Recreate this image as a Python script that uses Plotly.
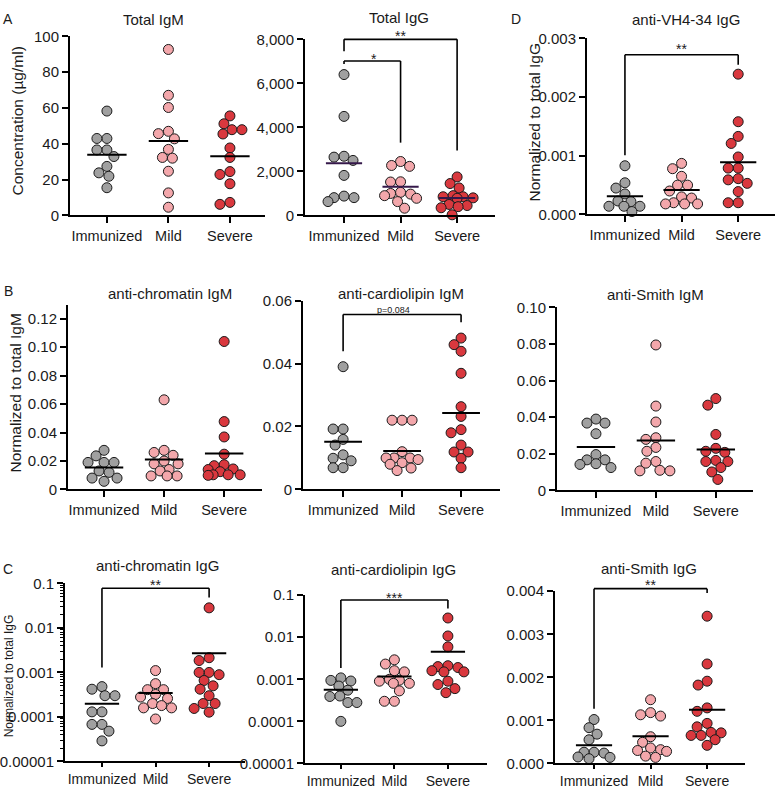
import numpy as np
import plotly.graph_objects as go

W, H = 777, 791
groups = ["Immunized", "Mild", "Severe"]
colors = ["#a0a0a0", "#f3a7ab", "#d9383e"]

# ---------------- data ----------------
total_igm_immunized = [58.3, 43, 43, 36.6, 36.6, 32.9, 27.4, 23.8, 21.9, 15.5]
total_igm_mild = [92.7, 67.1, 60.3, 47, 45.7, 42.8, 36.9, 32.4, 32, 24.7, 12.6, 4.6]
total_igm_severe = [55.6, 51.2, 47.9, 47.9, 45.5, 37.7, 32.4, 24.5, 22.9, 17.7, 7.3, 6.2]

total_igg_immunized = [6400, 4500, 2690, 2650, 2500, 1820, 880, 810, 810, 630]
total_igg_mild = [2450, 2270, 2230, 1530, 1520, 1050, 1000, 970, 900, 780, 630, 330]
total_igg_severe = [1750, 1450, 1250, 900, 850, 850, 800, 780, 500, 450, 400, 350, 30]

vh434_igg_immunized = [0.00083, 0.00054, 0.00045, 0.00035, 0.00023, 0.00022, 0.00014, 0.00014, 0.00014, 0.00005]
vh434_igg_mild = [0.00087, 0.00078, 0.00065, 0.0005, 0.0005, 0.0004, 0.0003, 0.00028, 0.0002, 0.00018, 0.00018, 0.00018]
vh434_igg_severe = [0.00239, 0.00158, 0.00133, 0.00121, 0.00098, 0.00079, 0.00079, 0.00061, 0.00059, 0.00053, 0.00039, 0.0002, 0.0002]

chromatin_igm_immunized = [0.0275, 0.0236, 0.019, 0.019, 0.019, 0.013, 0.012, 0.008, 0.008, 0.0057]
chromatin_igm_mild = [0.063, 0.0275, 0.026, 0.024, 0.02, 0.018, 0.018, 0.014, 0.013, 0.0095, 0.0095, 0.0095]
chromatin_igm_severe = [0.104, 0.0477, 0.0369, 0.0248, 0.0174, 0.0167, 0.0144, 0.014, 0.0125, 0.0103, 0.0103, 0.0103, 0.0099]

cardiolipin_igm_immunized = [0.039, 0.0192, 0.0192, 0.0159, 0.0141, 0.011, 0.0099, 0.0091, 0.0069, 0.0069]
cardiolipin_igm_mild = [0.022, 0.022, 0.022, 0.012, 0.01, 0.01, 0.01, 0.0095, 0.0085, 0.008, 0.0068, 0.006]
cardiolipin_igm_severe = [0.0481, 0.046, 0.0439, 0.0369, 0.0263, 0.0232, 0.019, 0.018, 0.0141, 0.0119, 0.0119, 0.0099, 0.0069]

smith_igm_immunized = [0.039, 0.0368, 0.0368, 0.031, 0.0196, 0.0167, 0.0167, 0.0146, 0.0142, 0.0125]
smith_igm_mild = [0.0795, 0.0461, 0.0374, 0.0288, 0.0279, 0.0235, 0.0214, 0.0158, 0.0149, 0.011, 0.0107, 0.0107]
smith_igm_severe = [0.0502, 0.0466, 0.0306, 0.023, 0.0214, 0.0208, 0.0164, 0.0158, 0.0158, 0.0125, 0.0101, 0.006]

chromatin_igg_immunized = [0.00048, 0.00042, 0.0003, 0.0003, 0.00013, 0.00013, 0.000068, 0.000068, 0.000048, 0.000029]
chromatin_igg_mild = [0.0011, 0.00056, 0.00041, 0.00041, 0.00032, 0.00028, 0.00026, 0.0002, 0.00018, 0.00016, 0.00016, 0.00009]
chromatin_igg_severe = [0.0282, 0.00214, 0.00185, 0.001, 0.001, 0.00089, 0.00066, 0.0005, 0.00042, 0.0003, 0.0002, 0.0002, 0.000155, 0.000128]

cardiolipin_igg_immunized = [0.00108, 0.00094, 0.00091, 0.00069, 0.00055, 0.0004, 0.00039, 0.00028, 0.00028, 0.0001]
cardiolipin_igg_mild = [0.0029, 0.0023, 0.0016, 0.0015, 0.001, 0.00095, 0.0009, 0.0008, 0.0008, 0.00053, 0.0003, 0.0003]
cardiolipin_igg_severe = [0.0286, 0.0107, 0.0059, 0.0021, 0.002, 0.0019, 0.0016, 0.0015, 0.0015, 0.0009, 0.00075, 0.0006, 0.00048]

smith_igg_immunized = [0.00102, 0.00083, 0.00068, 0.00055, 0.00026, 0.00026, 0.00024, 0.00015, 0.00014, 0.00011]
smith_igg_mild = [0.00148, 0.00118, 0.00113, 0.0011, 0.00062, 0.00049, 0.00036, 0.00032, 0.0003, 0.00028, 0.00017, 0.00014]
smith_igg_severe = [0.00342, 0.00231, 0.00191, 0.00182, 0.00129, 0.00121, 0.00093, 0.00085, 0.00072, 0.00071, 0.00065, 0.00065, 0.00055, 0.00042]

# tick labels
ticks_total_igm = [0, 20, 40, 60, 80, 100]
ticks_total_igg = [0, 2000, 4000, 6000, 8000]
ticktext_total_igg = ["0", "2,000", "4,000", "6,000", "8,000"]
ticks_vh434 = [0, 0.001, 0.002, 0.003]
ticktext_vh434 = ["0.000", "0.001", "0.002", "0.003"]
ticks_chromatin_igm = [0, 0.02, 0.04, 0.06, 0.08, 0.10, 0.12]
ticktext_chromatin_igm = ["0", "0.02", "0.04", "0.06", "0.08", "0.10", "0.12"]
ticks_cardiolipin_igm = [0, 0.02, 0.04, 0.06]
ticktext_cardiolipin_igm = ["0", "0.02", "0.04", "0.06"]
ticks_smith_igm = [0, 0.02, 0.04, 0.06, 0.08, 0.10]
ticktext_smith_igm = ["0", "0.02", "0.04", "0.06", "0.08", "0.10"]
ticks_log = [0.00001, 0.0001, 0.001, 0.01, 0.1]
ticktext_log = ["0.00001", "0.0001", "0.001", "0.01", "0.1"]
ticks_smith_igg = [0, 0.001, 0.002, 0.003, 0.004]
ticktext_smith_igg = ["0.000", "0.001", "0.002", "0.003", "0.004"]

# ---------------- layout of panels (pixel boxes: left, right, top, bottom) ----------------
panels = [
    dict(title="Total IgM", tpos=(153, 11), data=[total_igm_immunized, total_igm_mild, total_igm_severe],
         box=(70, 265, 28, 211), xr=(-0.60, 2.57), yr=(0, 100), log=False,
         tv=ticks_total_igm, tt=[str(v) for v in ticks_total_igm], mean_color="black"),
    dict(title="Total IgG", tpos=(399, 9), data=[total_igg_immunized, total_igg_mild, total_igg_severe],
         box=(305, 495, 31, 211), xr=(-0.69, 2.67), yr=(0, 8000), log=False,
         tv=ticks_total_igg, tt=ticktext_total_igg, mean_color="#35184a"),
    dict(title="anti-VH4-34 IgG", tpos=(686, 11), data=[vh434_igg_immunized, vh434_igg_mild, vh434_igg_severe],
         box=(587, 775, 30, 210), xr=(-0.67, 2.65), yr=(0, 0.003), log=False,
         tv=ticks_vh434, tt=ticktext_vh434, mean_color="black"),
    dict(title="anti-chromatin IgM", tpos=(170, 291), data=[chromatin_igm_immunized, chromatin_igm_mild, chromatin_igm_severe],
         box=(68, 262, 302, 491), xr=(-0.60, 2.63), yr=(0, 0.13), log=False,
         tv=ticks_chromatin_igm, tt=ticktext_chromatin_igm, mean_color="black"),
    dict(title="anti-cardiolipin IgM", tpos=(401, 291), data=[cardiolipin_igm_immunized, cardiolipin_igm_mild, cardiolipin_igm_severe],
         box=(303, 500, 298, 491), xr=(-0.68, 2.66), yr=(0, 0.06), log=False,
         tv=ticks_cardiolipin_igm, tt=ticktext_cardiolipin_igm, mean_color="black"),
    dict(title="anti-Smith IgM", tpos=(655, 292), data=[smith_igm_immunized, smith_igm_mild, smith_igm_severe],
         box=(557, 753, 305, 492), xr=(-0.65, 2.62), yr=(0, 0.10), log=False,
         tv=ticks_smith_igm, tt=ticktext_smith_igm, mean_color="black"),
    dict(title="anti-chromatin IgG", tpos=(157, 569), data=[chromatin_igg_immunized, chromatin_igg_mild, chromatin_igg_severe],
         box=(65, 245, 587, 769), xr=(-0.69, 2.67), yr=(-5, -1), log=True,
         tv=ticks_log, tt=ticktext_log, mean_color="black", minor=True),
    dict(title="anti-cardiolipin IgG", tpos=(393, 573), data=[cardiolipin_igg_immunized, cardiolipin_igg_mild, cardiolipin_igg_severe],
         box=(305, 487, 599, 771), xr=(-0.67, 2.73), yr=(-5, -1), log=True,
         tv=ticks_log, tt=ticktext_log, mean_color="black"),
    dict(title="anti-Smith IgG", tpos=(649, 572), data=[smith_igg_immunized, smith_igg_mild, smith_igg_severe],
         box=(555, 745, 595, 771), xr=(-0.69, 2.67), yr=(0, 0.004), log=False,
         tv=ticks_smith_igg, tt=ticktext_smith_igg, mean_color="black"),
]

# significance brackets: (panel index, x0, x1, top value, left-leg end, right-leg end, label, label px y, label x, size)
brackets = [
    (1, 0, 2, 8000, 7464, 2950, "**", 28, 1.0, 14),
    (1, 0, 1, 7017, 6882, 3307, "*", 51, 0.53, 14),
    (2, 0, 2, 0.00272, 0.00101, 0.00255, "**", 41, 1.0, 14),
    (4, 0, 2, 0.0556, 0.0439, 0.0531, "p=0.084", 308, 0.85, 9),
    (6, 0, 2, 0.078, 0.00129, 0.0484, "**", 589, 1.0, 14),
    (7, 0, 2, 0.0764, 0.00186, 0.048, "***", 602, 1.0, 14),
    (8, 0, 2, 0.00406, 0.00127, 0.00396, "**", 589, 1.0, 14),
]

FONT = "Liberation Sans, Arial, sans-serif"
D_PX = 10.0
SLOTS = np.arange(-16.0, 16.01, 1.0)


def px2x(px):
    return px / W


def px2y(py):
    return 1 - py / H


def swarm_offsets(values, ppx, ppy, log):
    v = np.log10(np.array(values, dtype=float)) if log else np.array(values, dtype=float)
    ypx = v * ppy
    order = np.argsort(-ypx, kind="stable")
    placed = []
    xs = np.zeros(len(v))
    for i in order:
        y = ypx[i]
        best, best_score = 0.0, None
        for s in SLOTS:
            pen = 0.0
            for px, py in placed:
                d = np.hypot(s - px, y - py)
                if d < D_PX:
                    pen += (D_PX - d) ** 2
            score = pen + 0.08 * abs(s) + (0.001 if s > 0 else 0)
            if best_score is None or score < best_score:
                best, best_score = s, score
        xs[i] = best
        placed.append((best, y))
    return xs / ppx


fig = go.Figure()
layout = dict(
    width=W, height=H, margin=dict(l=0, r=0, t=0, b=0), autosize=False,
    paper_bgcolor="white", plot_bgcolor="white", showlegend=False,
    font=dict(family=FONT, color="#1a1a1a", size=14),
)
annotations = []
shapes = []

for k, p in enumerate(panels):
    n = "" if k == 0 else str(k + 1)
    xa, ya = "xaxis" + n, "yaxis" + n
    xid, yid = "x" + n, "y" + n
    l, r, t, b = p["box"]
    last_row = k >= 6
    layout[xa] = dict(
        domain=[px2x(l), px2x(r)], range=list(p["xr"]), anchor=yid,
        tickvals=[0, 1, 2], ticktext=groups, showline=True, linewidth=2, linecolor="black",
        ticks="outside", ticklen=4 if last_row else 6, tickwidth=2, tickcolor="black",
        showgrid=False, zeroline=False,
        tickfont=dict(size=14 if last_row else 14.5, family=FONT, color="#1a1a1a"), fixedrange=True,
    )
    ydict = dict(
        domain=[px2y(b), px2y(t)], range=list(p["yr"]), anchor=xid,
        tickvals=p["tv"], ticktext=p["tt"], showline=True, linewidth=2, linecolor="black",
        ticks="outside", ticklen=6, tickwidth=2, tickcolor="black", showgrid=False, zeroline=False,
        tickfont=dict(size=15, family=FONT, color="#1a1a1a"), fixedrange=True,
    )
    if p["log"]:
        ydict["type"] = "log"
    if p.get("minor"):
        ydict["minor"] = dict(
            tickvals=[m * 10.0 ** e for e in range(-5, -1) for m in range(2, 10)],
            ticks="outside", ticklen=3, tickwidth=1, tickcolor="black", showgrid=False,
        )
    layout[ya] = ydict

    ppx = (r - l) / (p["xr"][1] - p["xr"][0])
    ppy = (b - t) / (p["yr"][1] - p["yr"][0])
    for gi, vals in enumerate(p["data"]):
        offs = swarm_offsets(vals, ppx, ppy, p["log"])
        fig.add_trace(go.Scatter(
            x=gi + offs, y=vals, mode="markers", xaxis=xid, yaxis=yid,
            marker=dict(size=10, color=colors[gi], line=dict(color="#1a1a1a", width=1)),
            cliponaxis=False, hoverinfo="skip",
        ))
    for gi, vals in enumerate(p["data"]):
        m = float(np.mean(vals))
        fig.add_trace(go.Scatter(
            x=[gi - 0.32, gi + 0.32], y=[m, m], mode="lines", xaxis=xid, yaxis=yid,
            line=dict(color=p["mean_color"], width=2), hoverinfo="skip",
        ))
    annotations.append(dict(
        text=p["title"], x=px2x(p["tpos"][0]), y=px2y(p["tpos"][1]), xref="paper", yref="paper",
        xanchor="center", yanchor="middle", showarrow=False, font=dict(size=15, family=FONT, color="#1a1a1a"),
    ))


def dom_frac(p, v):
    lo, hi = p["yr"]
    val = np.log10(v) if p["log"] else v
    return (val - lo) / (hi - lo)


for (pi, x0, x1, top, le, re_, lab, ly, lx, fs) in brackets:
    p = panels[pi]
    n = "" if pi == 0 else str(pi + 1)
    xref, yref = "x" + n, "y" + n + " domain"
    ft, fl, fr = dom_frac(p, top), dom_frac(p, le), dom_frac(p, re_)
    ln = dict(color="black", width=1.6)
    shapes.append(dict(type="line", xref=xref, yref=yref, x0=x0, x1=x0, y0=fl, y1=ft, line=ln))
    shapes.append(dict(type="line", xref=xref, yref=yref, x0=x0, x1=x1, y0=ft, y1=ft, line=ln))
    shapes.append(dict(type="line", xref=xref, yref=yref, x0=x1, x1=x1, y0=ft, y1=fr, line=ln))
    annotations.append(dict(
        text=lab, x=lx, y=px2y(ly), xref=xref, yref="paper", xanchor="center", yanchor="middle",
        showarrow=False, font=dict(size=fs, family=FONT, color="#1a1a1a"),
    ))

for lab, (x, y) in {"A": (8, 10), "B": (8, 288), "C": (8, 572), "D": (516, 10)}.items():
    annotations.append(dict(text=lab, x=px2x(x), y=px2y(y), xref="paper", yref="paper",
                            xanchor="center", yanchor="middle", showarrow=False,
                            font=dict(size=14, family=FONT, color="#1a1a1a")))

for lab, (x, y), fs in [("Concentration (µg/ml)", (18, 115), 15.5),
                        ("Normalized to total IgG", (535, 116), 15.5),
                        ("Normalized to total IgM", (16, 393), 15.5),
                        ("Normalized to total IgG", (9, 682), 12)]:
    annotations.append(dict(text=lab, x=px2x(x), y=px2y(y), xref="paper", yref="paper",
                            xanchor="center", yanchor="middle", textangle=-90, showarrow=False,
                            font=dict(size=fs, family=FONT, color="#1a1a1a")))

layout["annotations"] = annotations
layout["shapes"] = shapes
fig.update_layout(**layout)
fig.write_html(
    "out.html",
    config={"displayModeBar": False, "responsive": False},
    post_script=(
        "document.documentElement.style.margin='0px';"
        "document.documentElement.style.overflow='hidden';"
        "document.body.style.margin='0px';"
        "document.body.style.overflow='hidden';"
        "var gd=document.getElementById('{plot_id}');"
        "gd.style.position='fixed';gd.style.left='0px';gd.style.top='0px';"
    ),
)
